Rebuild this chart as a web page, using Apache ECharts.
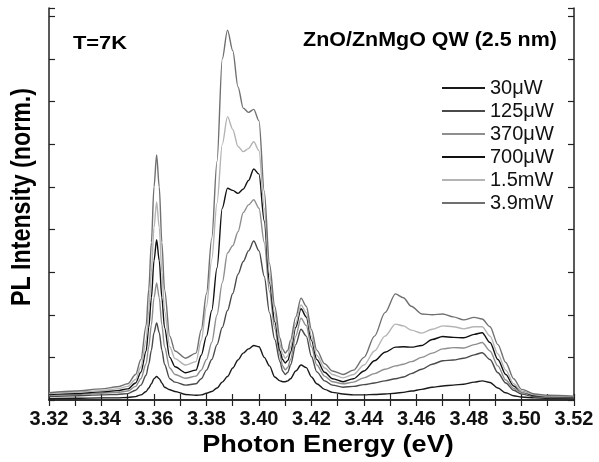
<!DOCTYPE html>
<html>
<head>
<meta charset="utf-8">
<script src="https://cdn.jsdelivr.net/npm/echarts@6/dist/echarts.min.js"></script>
<style>
    html, body { margin: 0; padding: 0; background: #fff; }
    #chart { width: 599px; height: 462px; }
</style>
</head>
<body>
<div id="chart"></div>
<script>
// photon energy (eV), shared by all spectra
var energy = [3.320, 3.330, 3.340, 3.346, 3.350, 3.353, 3.355, 3.357, 3.358, 3.359,
    3.360, 3.361, 3.362, 3.363, 3.364, 3.366, 3.368, 3.372,
    3.376, 3.378, 3.380, 3.382, 3.384, 3.386, 3.388, 3.390, 3.392, 3.394,
    3.396, 3.398, 3.400, 3.402, 3.404, 3.406, 3.408,
    3.409, 3.410, 3.411, 3.412, 3.414, 3.416, 3.418, 3.420, 3.422, 3.425, 3.428,
    3.432, 3.436, 3.440, 3.444, 3.448, 3.452, 3.455, 3.458, 3.462, 3.466,
    3.470, 3.474, 3.478, 3.482, 3.485, 3.488, 3.491, 3.494, 3.497, 3.500,
    3.505, 3.510, 3.520];

// PL intensity (norm.), one array per excitation power
var pl30uW = [0.03, 0.04, 0.05, 0.05, 0.06, 0.08, 0.12, 0.2, 0.28, 0.38,
    0.5, 0.55, 0.5, 0.4, 0.3, 0.24, 0.2, 0.13,
    0.11, 0.12, 0.16, 0.2, 0.28, 0.42, 0.55, 0.75, 0.94, 1.1,
    1.2, 1.28, 1.25, 1.0, 0.8, 0.54, 0.45,
    0.43, 0.43, 0.45, 0.5, 0.68, 0.82, 0.76, 0.54, 0.38, 0.25, 0.18,
    0.14, 0.12, 0.12, 0.13, 0.14, 0.16, 0.18, 0.21, 0.25, 0.3,
    0.33, 0.35, 0.37, 0.42, 0.45, 0.41, 0.28, 0.17, 0.1, 0.07,
    0.05, 0.04, 0.04];
var pl125uW = [0.08, 0.1, 0.12, 0.13, 0.15, 0.23, 0.35, 0.58, 0.84, 1.17,
    1.58, 1.81, 1.58, 1.17, 0.84, 0.5, 0.42, 0.35,
    0.38, 0.5, 0.7, 0.95, 1.3, 1.7, 2.1, 2.5, 2.95, 3.25,
    3.5, 3.73, 3.5, 2.9, 2.05, 1.42, 0.9,
    0.68, 0.6, 0.65, 0.82, 1.3, 1.66, 1.5, 1.02, 0.66, 0.45, 0.35,
    0.3, 0.32, 0.36, 0.4, 0.45, 0.5, 0.54, 0.62, 0.72, 0.84,
    0.92, 0.94, 0.98, 1.06, 1.11, 0.95, 0.64, 0.4, 0.23, 0.14,
    0.08, 0.06, 0.05];
var pl370uW = [0.11, 0.13, 0.16, 0.18, 0.21, 0.32, 0.5, 0.85, 1.25, 1.76,
    2.4, 2.75, 2.4, 1.76, 1.25, 0.75, 0.6, 0.51,
    0.56, 0.7, 0.95, 1.35, 2.0, 2.75, 3.45, 3.62, 3.95, 4.4,
    4.58, 4.7, 4.5, 3.7, 2.55, 1.68, 1.05,
    0.8, 0.71, 0.77, 0.95, 1.5, 1.92, 1.75, 1.25, 0.82, 0.56, 0.43,
    0.38, 0.42, 0.52, 0.62, 0.72, 0.8, 0.84, 0.9, 1.0, 1.1,
    1.2, 1.23, 1.22, 1.3, 1.35, 1.15, 0.8, 0.47, 0.27, 0.17,
    0.09, 0.07, 0.06];
var pl700uW = [0.13, 0.15, 0.19, 0.22, 0.26, 0.4, 0.65, 1.15, 1.7, 2.4,
    3.27, 3.76, 3.27, 2.4, 1.7, 1.0, 0.78, 0.64,
    0.7, 1.05, 1.5, 2.1, 3.1, 4.5, 4.97, 4.92, 4.85, 4.95,
    5.15, 5.42, 5.3, 4.2, 2.75, 1.84, 1.15,
    0.95, 0.87, 0.93, 1.12, 1.7, 2.14, 1.95, 1.4, 0.95, 0.65, 0.5,
    0.43, 0.5, 0.68, 0.92, 1.12, 1.24, 1.25, 1.24, 1.28, 1.42,
    1.49, 1.47, 1.46, 1.54, 1.58, 1.35, 0.95, 0.6, 0.33, 0.2,
    0.1, 0.08, 0.07];
var pl1_5mW = [0.15, 0.18, 0.22, 0.26, 0.32, 0.48, 0.78, 1.4, 2.1, 3.0,
    4.05, 4.65, 4.05, 3.0, 2.1, 1.25, 0.97, 0.82,
    0.9, 1.4, 2.2, 3.3, 4.62, 6.0, 6.65, 6.35, 5.95, 5.83,
    5.9, 6.06, 5.85, 4.5, 2.95, 2.03, 1.3,
    1.08, 0.98, 1.04, 1.25, 1.8, 2.23, 2.05, 1.5, 1.05, 0.75, 0.6,
    0.52, 0.6, 0.82, 1.15, 1.5, 1.78, 1.74, 1.64, 1.57, 1.66,
    1.74, 1.72, 1.67, 1.72, 1.72, 1.5, 1.08, 0.7, 0.38, 0.2,
    0.12, 0.09, 0.08];
var pl3_9mW = [0.17, 0.21, 0.26, 0.31, 0.38, 0.6, 0.95, 1.75, 2.6, 3.7,
    5.0, 5.75, 5.0, 3.7, 2.6, 1.5, 1.15, 0.98,
    1.1, 1.65, 2.5, 3.8, 5.6, 8.0, 8.68, 8.2, 7.35, 6.85,
    6.75, 6.82, 6.55, 4.9, 3.2, 2.2, 1.45,
    1.2, 1.1, 1.17, 1.4, 1.95, 2.39, 2.2, 1.65, 1.17, 0.85, 0.68,
    0.6, 0.7, 1.0, 1.5, 2.05, 2.49, 2.4, 2.2, 2.02, 2.0,
    2.02, 1.95, 1.88, 1.94, 1.9, 1.72, 1.3, 0.88, 0.5, 0.25,
    0.14, 0.11, 0.09];

var powerNames = ['30μW', '125μW', '370μW', '700μW', '1.5mW', '3.9mW'];
var spectra = [pl30uW, pl125uW, pl370uW, pl700uW, pl1_5mW, pl3_9mW];
var lineColors = ['#1a1a1a', '#4a4a4a', '#8e8e8e', '#111111', '#b4b4b4', '#707070'];

var FONT = '"Liberation Sans", Arial, Helvetica, sans-serif';

var myChart = echarts.init(document.getElementById('chart'));

var series = [];
for (var i = 0; i < spectra.length; i++) {
    var pts = [];
    for (var j = 0; j < energy.length; j++) {
        pts.push([energy[j], spectra[i][j]]);
    }
    series.push({
        name: powerNames[i],
        type: 'line',
        data: pts,
        showSymbol: false,
        symbol: 'none',
        smooth: 0.3,
        smoothMonotone: 'x',
        itemStyle: { color: lineColors[i] },
        lineStyle: { color: lineColors[i], width: 1.4 },
        z: 2 + i
    });
}

var axisLine = { show: true, lineStyle: { color: '#222', width: 1.5 } };
var tickStyle = { color: '#222', width: 1.2 };

var option = {
    animation: false,
    backgroundColor: '#fff',
    grid: { left: 49, right: 25, top: 8, bottom: 62 },
    legend: {
        orient: 'vertical',
        left: 442,
        top: 78,
        padding: 0,
        icon: 'rect',
        itemWidth: 43,
        itemHeight: 2,
        itemGap: 3,
        data: powerNames,
        textStyle: { fontSize: 20, color: '#111', fontFamily: FONT }
    },
    xAxis: [{
        type: 'value',
        min: 3.32,
        max: 3.52,
        interval: 0.02,
        axisLine: axisLine,
        axisTick: { inside: true, length: 6, lineStyle: tickStyle },
        minorTick: { show: true, splitNumber: 2, length: 6, lineStyle: tickStyle },
        splitLine: { show: false },
        axisLabel: {
            margin: 9,
            fontSize: 20,
            fontWeight: 'bold',
            color: '#111',
            fontFamily: FONT,
            formatter: function (v) { return v.toFixed(2); }
        }
    }, {
        type: 'value',
        position: 'top',
        min: 3.32,
        max: 3.52,
        interval: 0.02,
        axisLine: axisLine,
        axisTick: { inside: true, length: 6, lineStyle: tickStyle },
        minorTick: { show: true, splitNumber: 2, length: 6, lineStyle: tickStyle },
        splitLine: { show: false },
        axisLabel: { show: false }
    }],
    yAxis: [{
        type: 'value',
        min: 0,
        max: 9.2,
        interval: 1,
        axisLine: axisLine,
        axisTick: { show: true, inside: true, length: 6, lineStyle: tickStyle },
        splitLine: { show: false },
        axisLabel: { show: false }
    }, {
        type: 'value',
        position: 'right',
        min: 0,
        max: 9.2,
        interval: 1,
        axisLine: axisLine,
        axisTick: { show: true, inside: true, length: 6, lineStyle: tickStyle },
        splitLine: { show: false },
        axisLabel: { show: false }
    }],
    graphic: [{
        type: 'text', x: 73, y: 44, scaleX: 1.15,
        style: { text: 'T=7K', font: 'bold 19px ' + FONT, fill: '#000', textAlign: 'left', textVerticalAlign: 'middle' }
    }, {
        type: 'text', x: 430, y: 41, scaleX: 1.1,
        style: { text: 'ZnO/ZnMgO QW (2.5 nm)', font: 'bold 19.5px ' + FONT, fill: '#000', textAlign: 'center', textVerticalAlign: 'middle' }
    }, {
        type: 'text', x: 328, y: 445, scaleX: 1.13,
        style: { text: 'Photon Energy (eV)', font: 'bold 24px ' + FONT, fill: '#000', textAlign: 'center', textVerticalAlign: 'middle' }
    }, {
        type: 'text', x: 23, y: 197, rotation: Math.PI / 2, scaleX: 0.86,
        style: { text: 'PL Intensity (norm.)', font: 'bold 27px ' + FONT, fill: '#000', textAlign: 'center', textVerticalAlign: 'middle' }
    }],
    series: series
};

myChart.setOption(option);
</script>
</body>
</html>
